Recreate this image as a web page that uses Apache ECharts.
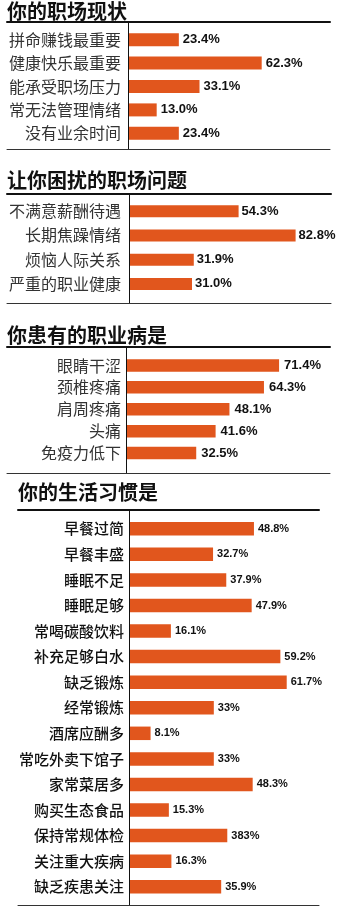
<!DOCTYPE html>
<html>
<head>
<meta charset="utf-8">
<script src="https://cdn.jsdelivr.net/npm/echarts@6/dist/echarts.min.js"></script>
<style>
html,body{margin:0;padding:0;background:#fff;}
#chart{width:355px;height:914px;}
</style>
</head>
<body>
<div id="chart"></div>
<script>
// ---- data ----
const titles = ['你的职场现状', '让你困扰的职场问题', '你患有的职业病是', '你的生活习惯是'];

const statusCats = ['拼命赚钱最重要', '健康快乐最重要', '能承受职场压力', '常无法管理情绪', '没有业余时间'];
const statusVals = [23.4, 62.3, 33.1, 13.0, 23.4];
const statusText = ['23.4%', '62.3%', '33.1%', '13.0%', '23.4%'];

const troubleCats = ['不满意薪酬待遇', '长期焦躁情绪', '烦恼人际关系', '严重的职业健康'];
const troubleVals = [54.3, 82.8, 31.9, 31.0];
const troubleText = ['54.3%', '82.8%', '31.9%', '31.0%'];

const diseaseCats = ['眼睛干涩', '颈椎疼痛', '肩周疼痛', '头痛', '免疫力低下'];
const diseaseVals = [71.4, 64.3, 48.1, 41.6, 32.5];
const diseaseText = ['71.4%', '64.3%', '48.1%', '41.6%', '32.5%'];

const habitCats = ['早餐过简', '早餐丰盛', '睡眠不足', '睡眠足够', '常喝碳酸饮料', '补充足够白水', '缺乏锻炼', '经常锻炼', '酒席应酬多', '常吃外卖下馆子', '家常菜居多', '购买生态食品', '保持常规体检', '关注重大疾病', '缺乏疾患关注'];
const habitVals = [48.8, 32.7, 37.9, 47.9, 16.1, 59.2, 61.7, 33, 8.1, 33, 48.3, 15.3, 38.3, 16.3, 35.9];
const habitText = ['48.8%', '32.7%', '37.9%', '47.9%', '16.1%', '59.2%', '61.7%', '33%', '8.1%', '33%', '48.3%', '15.3%', '383%', '16.3%', '35.9%'];

// ---- layout (styles only) ----
const BAR = '#E1561D';
const CJK = '"Noto Sans CJK SC", "Noto Sans", sans-serif';
const NUM = '"Liberation Sans", Arial, sans-serif';

const panels = [
  { cats: statusCats, vals: statusVals, text: statusText,
    title: { left: 7, top: 1 },
    frame: { left: 7, right: 330, top: 22, bottom: 149, axisX: 128 },
    data: { left: 129, top: 28, height: 117, width: 213, max: 100 },
    barWidth: 13, catSize: 16, catColor: '#333', catWeight: 'normal', catMargin: 8,
    numSize: 13, labelDist: 4 },
  { cats: troubleCats, vals: troubleVals, text: troubleText,
    title: { left: 7, top: 170 },
    frame: { left: 7, right: 331, top: 194, bottom: 303, axisX: 129 },
    data: { left: 130, top: 199, height: 97, width: 200, max: 100 },
    barWidth: 12, catSize: 16, catColor: '#333', catWeight: 'normal', catMargin: 9,
    numSize: 13, labelDist: 3 },
  { cats: diseaseCats, vals: diseaseVals, text: diseaseText,
    title: { left: 7, top: 325 },
    frame: { left: 7, right: 330, top: 347, bottom: 473, axisX: 126 },
    data: { left: 127, top: 354.5, height: 109.5, width: 213, max: 100 },
    barWidth: 12.5, catSize: 16, catColor: '#333', catWeight: 'normal', catMargin: 6,
    numSize: 13, labelDist: 5 },
  { cats: habitCats, vals: habitVals, text: habitText,
    title: { left: 18, top: 482 },
    frame: { left: 18, right: 319, top: 510, bottom: 905, axisX: 129 },
    data: { left: 130, top: 516, height: 383.5, width: 203.2, max: 80 },
    barWidth: 13.5, catSize: 15, catColor: '#111', catWeight: 500, catMargin: 6,
    numSize: 11, labelDist: 4 }
];

const option = {
  backgroundColor: '#fff',
  animation: false,
  title: [], grid: [], xAxis: [], yAxis: [], series: []
};

panels.forEach((p, i) => {
  option.title.push({
    text: titles[i], left: p.title.left, top: p.title.top, padding: 0,
    textStyle: { fontFamily: CJK, fontSize: 20, fontWeight: 'bold', color: '#111' }
  });
  // frame grid (rules and vertical axis line)
  const fg = option.grid.length;
  option.grid.push({ left: p.frame.left, top: p.frame.top, width: p.frame.right - p.frame.left,
    height: p.frame.bottom - p.frame.top, containLabel: false });
  const hidden = { axisLabel: { show: false }, axisTick: { show: false }, splitLine: { show: false } };
  option.xAxis.push(Object.assign({ type: 'value', gridIndex: fg, position: 'top', min: 0, max: 1,
    axisLine: { show: true, onZero: false, lineStyle: { color: '#111', width: 2 } } }, hidden));
  option.xAxis.push(Object.assign({ type: 'value', gridIndex: fg, position: 'bottom', min: 0, max: 1,
    axisLine: { show: true, onZero: false, lineStyle: { color: '#333', width: 1 } } }, hidden));
  option.yAxis.push(Object.assign({ type: 'value', gridIndex: fg, position: 'left', min: 0, max: 1,
    offset: -(p.frame.axisX - p.frame.left),
    axisLine: { show: true, onZero: false, lineStyle: { color: '#111', width: 1 } } }, hidden));
  // data grid
  const dg = option.grid.length;
  option.grid.push({ left: p.data.left, top: p.data.top, width: p.data.width, height: p.data.height, containLabel: false });
  const xi = option.xAxis.length;
  option.xAxis.push({ type: 'value', gridIndex: dg, min: 0, max: p.data.max, show: false });
  const yi = option.yAxis.length;
  option.yAxis.push({ type: 'category', gridIndex: dg, data: p.cats, inverse: true,
    axisLine: { show: false }, axisTick: { show: false }, splitLine: { show: false },
    axisLabel: { margin: p.catMargin, fontFamily: CJK, fontSize: p.catSize, color: p.catColor, fontWeight: p.catWeight } });
  option.series.push({
    type: 'bar', xAxisIndex: xi, yAxisIndex: yi, data: p.vals, barWidth: p.barWidth,
    itemStyle: { color: BAR },
    label: { show: true, position: 'right', distance: p.labelDist,
      formatter: (d) => p.text[d.dataIndex],
      fontFamily: NUM, fontWeight: 'bold', fontSize: p.numSize, color: '#111' }
  });
});

const chart = echarts.init(document.getElementById('chart'), null, { renderer: 'canvas' });
chart.setOption(option);
</script>
</body>
</html>
